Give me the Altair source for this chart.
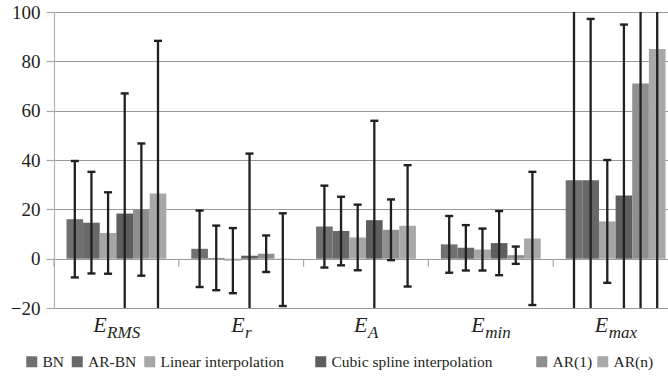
import altair as alt
import pandas as pd

# ---------------- data ----------------
categories = ["ERMS", "Er", "EA", "Emin", "Emax"]
subscripts = ["RMS", "r", "A", "min", "max"]
series = ["BN", "AR-BN", "Linear interpolation", "Cubic spline interpolation", "AR(1)", "AR(n)"]
colors = ["#707070", "#686868", "#a6a6a6", "#5e5e5e", "#8f8f8f", "#a8a8a8"]

bn_mean = [16.0, 4.0, 13.0, 5.8, 31.8]
arbn_mean = [14.6, 0.3, 11.2, 4.4, 31.8]
lin_mean = [10.4, -0.8, 8.6, 3.7, 15.1]
cub_mean = [18.3, 1.2, 15.6, 6.3, 25.6]
ar1_mean = [19.9, 2.0, 11.7, 1.4, 71.0]
arn_mean = [26.4, -0.4, 13.3, 8.2, 85.0]

bn_sd = [23.6, 15.5, 16.6, 11.5, 75.0]
arbn_sd = [20.6, 13.1, 13.9, 9.2, 65.4]
lin_sd = [16.5, 13.2, 13.3, 8.5, 24.9]
cub_sd = [48.7, 41.4, 40.3, 13.0, 69.3]
ar1_sd = [26.8, 7.4, 12.3, 3.5, 100.0]
arn_sd = [61.9, 18.8, 24.6, 27.0, 110.0]

means = [bn_mean, arbn_mean, lin_mean, cub_mean, ar1_mean, arn_mean]
sds = [bn_sd, arbn_sd, lin_sd, cub_sd, ar1_sd, arn_sd]

rows = []
for s, m_list, sd_list in zip(series, means, sds):
    for c, m, sd in zip(categories, m_list, sd_list):
        rows.append({"cat": c, "series": s, "mean": m, "sd": sd})
df = pd.DataFrame(rows)

# ---------------- styling ----------------
W, H = 614, 296
SERIF = "Liberation Serif"
TEXT = "#231f20"
ERR = "#231f20"

x_scale = alt.Scale(domain=categories, range=[0, 624], paddingInner=0, paddingOuter=0)
xo_scale = alt.Scale(domain=series, paddingInner=0, paddingOuter=0.75)
y_scale = alt.Scale(domain=[-20, 100], nice=False, zero=False)

x_enc = alt.X("cat:N", scale=x_scale, sort=categories, axis=None)
xo_enc = alt.XOffset("series:N", scale=xo_scale, sort=series)
y_enc = alt.Y(
    "mean:Q",
    scale=y_scale,
    axis=alt.Axis(
        values=[-20, 0, 20, 40, 60, 80, 100],
        title=None,
        grid=True,
        gridColor="#999999",
        gridWidth=1.2,
        domainColor="#b3b3b3",
        domainWidth=1.2,
        tickColor="#a8a8a8",
        tickSize=8,
        tickWidth=1.2,
        labelFont=SERIF,
        labelFontSize=19,
        labelColor=TEXT,
        labelPadding=6,
    ),
)

base = alt.Chart(df)

# legend entry placement along the bottom row (layout offsets, px from plot left)
legend_x = [-30, 15.5, 88, 259, 480, 541]

bar_layers = []
for name, col, lx in zip(series, colors, legend_x):
    bar_layers.append(
        base.transform_filter(alt.FieldEqualPredicate(field="series", equal=name))
        .mark_bar(clip=True)
        .encode(
            x=x_enc,
            xOffset=xo_enc,
            y=y_enc,
            color=alt.Color(
                "series:N",
                scale=alt.Scale(domain=[name], range=[col]),
                legend=alt.Legend(
                    orient="none",
                    legendX=lx,
                    legendY=342,
                    direction="horizontal",
                    title=None,
                    symbolType="square",
                    symbolSize=121,
                    symbolStrokeWidth=0,
                    symbolOpacity=1,
                    labelFont=SERIF,
                    labelFontSize=15.5,
                    labelColor=TEXT,
                    labelOffset=3,
                    labelLimit=400,
                    padding=0,
                ),
            ),
        )
    )

err_base = base.transform_calculate(
    hi="datum.mean + datum.sd", lo="datum.mean - datum.sd"
)

rules = err_base.mark_rule(clip=True, color=ERR, strokeWidth=2.3).encode(
    x=x_enc, xOffset=xo_enc, y=alt.Y("lo:Q", scale=y_scale), y2="hi:Q"
)
cap_hi = err_base.mark_tick(clip=True, color=ERR, size=8, thickness=2.4, opacity=1).encode(
    x=x_enc, xOffset=xo_enc, y=alt.Y("hi:Q", scale=y_scale)
)
cap_lo = err_base.mark_tick(clip=True, color=ERR, size=8, thickness=2.4, opacity=1).encode(
    x=x_enc, xOffset=xo_enc, y=alt.Y("lo:Q", scale=y_scale)
)

# category boundary ticks hanging from the zero line
bound = alt.Chart(pd.DataFrame({"cat": categories})).mark_rule(
    color="#a8a8a8", strokeWidth=1.2
).encode(
    x=alt.X("cat:N", scale=x_scale, sort=categories, axis=None, bandPosition=0),
    y=alt.datum(0),
    y2=alt.datum(-3.3),
)

# italic E with subscript labels, centred under each group
w_italic = {"E": 0.611, "R": 0.611, "M": 0.833, "S": 0.5, "r": 0.389, "A": 0.611,
            "m": 0.722, "i": 0.278, "n": 0.5, "a": 0.5, "x": 0.444}
E_SIZE, SUB_SIZE = 22, 17
label_layers = []
for c, sub in zip(categories, subscripts):
    wE = w_italic["E"] * E_SIZE
    wS = sum(w_italic[ch] for ch in sub) * SUB_SIZE
    shift = (wE - wS) / 2
    ldf = pd.DataFrame({"cat": [c], "main": ["E"], "sub": [sub]})
    lc = alt.Chart(ldf)
    label_layers.append(
        lc.mark_text(align="right", baseline="alphabetic", dx=shift, dy=23.7,
                     font=SERIF, fontSize=E_SIZE, fontStyle="italic", color=TEXT).encode(
            x=alt.X("cat:N", scale=x_scale, sort=categories, axis=None),
            y=alt.datum(-20),
            text="main:N",
        )
    )
    label_layers.append(
        lc.mark_text(align="left", baseline="alphabetic", dx=shift + 0.5, dy=30.3,
                     font=SERIF, fontSize=SUB_SIZE, fontStyle="italic", color=TEXT).encode(
            x=alt.X("cat:N", scale=x_scale, sort=categories, axis=None),
            y=alt.datum(-20),
            text="sub:N",
        )
    )

chart = alt.layer(*bar_layers, rules, cap_hi, cap_lo, bound, *label_layers).resolve_scale(
    color="independent"
).properties(
    width=W,
    height=H,
    autosize=alt.AutoSizeParams(type="none"),
    padding={"left": 54, "top": 12, "right": 0, "bottom": 68},
).configure_view(stroke=None).configure(background="white")

chart.save("out.html", embed_options={"renderer": "svg", "actions": False})
